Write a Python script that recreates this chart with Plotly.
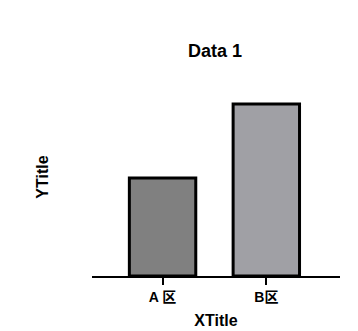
import plotly.graph_objects as go

categories = ["A 区", "B区"]
values = [57, 100]
colors = ["#808080", "#a0a0a5"]

fig = go.Figure()
fig.add_trace(go.Bar(
    x=[0, 1],
    y=values,
    width=0.64,
    marker=dict(color=colors, line=dict(color="black", width=3)),
))

font_family = "Liberation Sans, Arial, Noto Sans CJK SC, sans-serif"

fig.update_layout(
    width=358, height=331,
    margin=dict(l=92, r=18, t=78, b=55),
    paper_bgcolor="white", plot_bgcolor="white",
    showlegend=False,
    title=dict(text="<b>Data 1</b>", x=215 / 358, xanchor="center",
               y=1 - 51 / 331, yanchor="middle", yref="container",
               font=dict(family=font_family, size=18, color="black")),
    xaxis=dict(
        range=[-0.68, 1.71],
        automargin=False,
        tickmode="array", tickvals=[0, 1],
        ticktext=["<b>" + c + "</b>" for c in categories],
        showline=True, linecolor="black", linewidth=2,
        ticks="outside", ticklen=7, tickwidth=2, tickcolor="black",
        showgrid=False, zeroline=False,
        tickfont=dict(family=font_family, size=14, color="black"),
        title=dict(text="<b>XTitle</b>", standoff=11,
                   font=dict(family=font_family, size=16, color="black")),
    ),
    yaxis=dict(
        range=[0, 115.1],
        automargin=False,
        showline=False, showticklabels=False, ticks="",
        showgrid=False, zeroline=False,
        title=dict(text="<b>YTitle</b>", standoff=38,
                   font=dict(family=font_family, size=16, color="black")),
    ),
)

fig.write_html("out.html")
